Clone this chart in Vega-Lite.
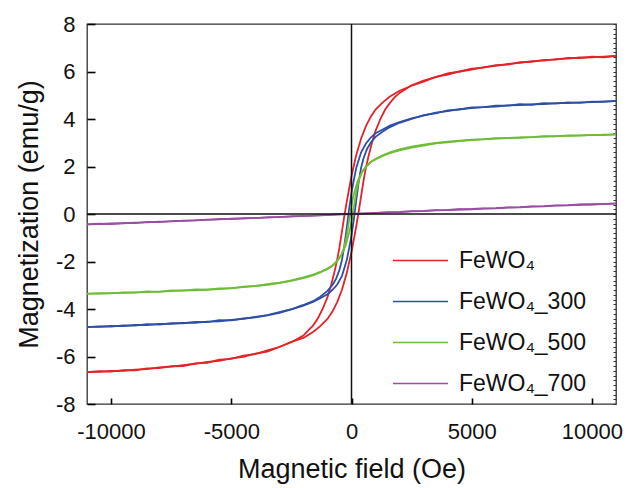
{
  "$schema": "https://vega.github.io/schema/vega-lite/v6.json",
  "autosize": {"type": "none"},
  "padding": {"left": 87, "top": 24, "right": 11, "bottom": 84},
  "width": 529,
  "height": 380,
  "config": {
    "font": "Liberation Sans",
    "view": {"stroke": "#333333", "strokeWidth": 1.3},
    "axis": {"grid": false, "labelColor": "#111111", "titleColor": "#111111", "labelFont": "Liberation Sans", "titleFont": "Liberation Sans", "titleFontWeight": "normal"}
  },
  "datasets": {
    "zero": [{"v": 0}],
    "loops": [
      {"s":"FeWO₄","b":"a","h":-11000,"m":-6.66},{"s":"FeWO₄","b":"a","h":-10500,"m":-6.62},{"s":"FeWO₄","b":"a","h":-10000,"m":-6.64},{"s":"FeWO₄","b":"a","h":-9500,"m":-6.57},{"s":"FeWO₄","b":"a","h":-9000,"m":-6.58},{"s":"FeWO₄","b":"a","h":-8500,"m":-6.5},{"s":"FeWO₄","b":"a","h":-8000,"m":-6.49},{"s":"FeWO₄","b":"a","h":-7500,"m":-6.41},{"s":"FeWO₄","b":"a","h":-7000,"m":-6.4},{"s":"FeWO₄","b":"a","h":-6500,"m":-6.29},{"s":"FeWO₄","b":"a","h":-6000,"m":-6.27},{"s":"FeWO₄","b":"a","h":-5500,"m":-6.13},{"s":"FeWO₄","b":"a","h":-5000,"m":-6.1},{"s":"FeWO₄","b":"a","h":-4500,"m":-5.96},{"s":"FeWO₄","b":"a","h":-4000,"m":-5.9},{"s":"FeWO₄","b":"a","h":-3500,"m":-5.74},{"s":"FeWO₄","b":"a","h":-3000,"m":-5.6},{"s":"FeWO₄","b":"a","h":-2500,"m":-5.38},{"s":"FeWO₄","b":"a","h":-2000,"m":-5.22},{"s":"FeWO₄","b":"a","h":-1600,"m":-4.97},{"s":"FeWO₄","b":"a","h":-1300,"m":-4.72},{"s":"FeWO₄","b":"a","h":-1000,"m":-4.42},{"s":"FeWO₄","b":"a","h":-800,"m":-4.12},{"s":"FeWO₄","b":"a","h":-600,"m":-3.72},{"s":"FeWO₄","b":"a","h":-400,"m":-3.2},{"s":"FeWO₄","b":"a","h":-200,"m":-2.5},{"s":"FeWO₄","b":"a","h":0,"m":-1.6},{"s":"FeWO₄","b":"a","h":200,"m":-0.5},{"s":"FeWO₄","b":"a","h":300,"m":0.1},{"s":"FeWO₄","b":"a","h":400,"m":0.75},{"s":"FeWO₄","b":"a","h":500,"m":1.4},{"s":"FeWO₄","b":"a","h":600,"m":1.95},{"s":"FeWO₄","b":"a","h":700,"m":2.4},{"s":"FeWO₄","b":"a","h":850,"m":3.0},{"s":"FeWO₄","b":"a","h":1000,"m":3.5},{"s":"FeWO₄","b":"a","h":1200,"m":4.0},{"s":"FeWO₄","b":"a","h":1400,"m":4.4},{"s":"FeWO₄","b":"a","h":1600,"m":4.68},{"s":"FeWO₄","b":"a","h":1800,"m":4.92},{"s":"FeWO₄","b":"a","h":2000,"m":5.1},{"s":"FeWO₄","b":"a","h":2500,"m":5.42},{"s":"FeWO₄","b":"a","h":3000,"m":5.62},{"s":"FeWO₄","b":"a","h":3500,"m":5.76},{"s":"FeWO₄","b":"a","h":4000,"m":5.92},{"s":"FeWO₄","b":"a","h":4500,"m":6.0},{"s":"FeWO₄","b":"a","h":5000,"m":6.12},{"s":"FeWO₄","b":"a","h":5500,"m":6.16},{"s":"FeWO₄","b":"a","h":6000,"m":6.27},{"s":"FeWO₄","b":"a","h":6500,"m":6.29},{"s":"FeWO₄","b":"a","h":7000,"m":6.39},{"s":"FeWO₄","b":"a","h":7500,"m":6.41},{"s":"FeWO₄","b":"a","h":8000,"m":6.49},{"s":"FeWO₄","b":"a","h":8500,"m":6.5},{"s":"FeWO₄","b":"a","h":9000,"m":6.57},{"s":"FeWO₄","b":"a","h":9500,"m":6.56},{"s":"FeWO₄","b":"a","h":10000,"m":6.62},{"s":"FeWO₄","b":"a","h":10500,"m":6.6},{"s":"FeWO₄","b":"a","h":11000,"m":6.66},
      {"s":"FeWO₄","b":"d","h":11000,"m":6.66},{"s":"FeWO₄","b":"d","h":10500,"m":6.63},{"s":"FeWO₄","b":"d","h":10000,"m":6.6},{"s":"FeWO₄","b":"d","h":9500,"m":6.59},{"s":"FeWO₄","b":"d","h":9000,"m":6.54},{"s":"FeWO₄","b":"d","h":8500,"m":6.52},{"s":"FeWO₄","b":"d","h":8000,"m":6.46},{"s":"FeWO₄","b":"d","h":7500,"m":6.44},{"s":"FeWO₄","b":"d","h":7000,"m":6.36},{"s":"FeWO₄","b":"d","h":6500,"m":6.32},{"s":"FeWO₄","b":"d","h":6000,"m":6.24},{"s":"FeWO₄","b":"d","h":5500,"m":6.18},{"s":"FeWO₄","b":"d","h":5000,"m":6.08},{"s":"FeWO₄","b":"d","h":4500,"m":6.0},{"s":"FeWO₄","b":"d","h":4000,"m":5.87},{"s":"FeWO₄","b":"d","h":3500,"m":5.77},{"s":"FeWO₄","b":"d","h":3000,"m":5.57},{"s":"FeWO₄","b":"d","h":2500,"m":5.4},{"s":"FeWO₄","b":"d","h":2000,"m":5.19},{"s":"FeWO₄","b":"d","h":1600,"m":4.95},{"s":"FeWO₄","b":"d","h":1300,"m":4.7},{"s":"FeWO₄","b":"d","h":1000,"m":4.4},{"s":"FeWO₄","b":"d","h":800,"m":4.1},{"s":"FeWO₄","b":"d","h":600,"m":3.7},{"s":"FeWO₄","b":"d","h":400,"m":3.18},{"s":"FeWO₄","b":"d","h":200,"m":2.5},{"s":"FeWO₄","b":"d","h":0,"m":1.6},{"s":"FeWO₄","b":"d","h":-200,"m":0.5},{"s":"FeWO₄","b":"d","h":-300,"m":-0.1},{"s":"FeWO₄","b":"d","h":-400,"m":-0.75},{"s":"FeWO₄","b":"d","h":-500,"m":-1.4},{"s":"FeWO₄","b":"d","h":-600,"m":-1.95},{"s":"FeWO₄","b":"d","h":-700,"m":-2.4},{"s":"FeWO₄","b":"d","h":-850,"m":-3.0},{"s":"FeWO₄","b":"d","h":-1000,"m":-3.5},{"s":"FeWO₄","b":"d","h":-1200,"m":-4.0},{"s":"FeWO₄","b":"d","h":-1400,"m":-4.4},{"s":"FeWO₄","b":"d","h":-1600,"m":-4.7},{"s":"FeWO₄","b":"d","h":-1800,"m":-4.9},{"s":"FeWO₄","b":"d","h":-2000,"m":-5.12},{"s":"FeWO₄","b":"d","h":-2500,"m":-5.4},{"s":"FeWO₄","b":"d","h":-3000,"m":-5.6},{"s":"FeWO₄","b":"d","h":-3500,"m":-5.79},{"s":"FeWO₄","b":"d","h":-4000,"m":-5.88},{"s":"FeWO₄","b":"d","h":-4500,"m":-6.02},{"s":"FeWO₄","b":"d","h":-5000,"m":-6.08},{"s":"FeWO₄","b":"d","h":-5500,"m":-6.18},{"s":"FeWO₄","b":"d","h":-6000,"m":-6.23},{"s":"FeWO₄","b":"d","h":-6500,"m":-6.31},{"s":"FeWO₄","b":"d","h":-7000,"m":-6.36},{"s":"FeWO₄","b":"d","h":-7500,"m":-6.43},{"s":"FeWO₄","b":"d","h":-8000,"m":-6.46},{"s":"FeWO₄","b":"d","h":-8500,"m":-6.53},{"s":"FeWO₄","b":"d","h":-9000,"m":-6.55},{"s":"FeWO₄","b":"d","h":-9500,"m":-6.6},{"s":"FeWO₄","b":"d","h":-10000,"m":-6.61},{"s":"FeWO₄","b":"d","h":-10500,"m":-6.65},{"s":"FeWO₄","b":"d","h":-11000,"m":-6.66},
      {"s":"FeWO₄_300","b":"a","h":-11000,"m":-4.76},{"s":"FeWO₄_300","b":"a","h":-10500,"m":-4.73},{"s":"FeWO₄_300","b":"a","h":-10000,"m":-4.74},{"s":"FeWO₄_300","b":"a","h":-9500,"m":-4.69},{"s":"FeWO₄_300","b":"a","h":-9000,"m":-4.7},{"s":"FeWO₄_300","b":"a","h":-8500,"m":-4.64},{"s":"FeWO₄_300","b":"a","h":-8000,"m":-4.66},{"s":"FeWO₄_300","b":"a","h":-7500,"m":-4.6},{"s":"FeWO₄_300","b":"a","h":-7000,"m":-4.6},{"s":"FeWO₄_300","b":"a","h":-6500,"m":-4.54},{"s":"FeWO₄_300","b":"a","h":-6000,"m":-4.55},{"s":"FeWO₄_300","b":"a","h":-5500,"m":-4.47},{"s":"FeWO₄_300","b":"a","h":-5000,"m":-4.48},{"s":"FeWO₄_300","b":"a","h":-4500,"m":-4.4},{"s":"FeWO₄_300","b":"a","h":-4000,"m":-4.35},{"s":"FeWO₄_300","b":"a","h":-3500,"m":-4.27},{"s":"FeWO₄_300","b":"a","h":-3000,"m":-4.16},{"s":"FeWO₄_300","b":"a","h":-2500,"m":-4.02},{"s":"FeWO₄_300","b":"a","h":-2000,"m":-3.86},{"s":"FeWO₄_300","b":"a","h":-1600,"m":-3.7},{"s":"FeWO₄_300","b":"a","h":-1300,"m":-3.55},{"s":"FeWO₄_300","b":"a","h":-1000,"m":-3.38},{"s":"FeWO₄_300","b":"a","h":-800,"m":-3.2},{"s":"FeWO₄_300","b":"a","h":-600,"m":-2.98},{"s":"FeWO₄_300","b":"a","h":-400,"m":-2.62},{"s":"FeWO₄_300","b":"a","h":-200,"m":-1.95},{"s":"FeWO₄_300","b":"a","h":-100,"m":-1.45},{"s":"FeWO₄_300","b":"a","h":0,"m":-0.9},{"s":"FeWO₄_300","b":"a","h":100,"m":-0.2},{"s":"FeWO₄_300","b":"a","h":200,"m":0.6},{"s":"FeWO₄_300","b":"a","h":300,"m":1.35},{"s":"FeWO₄_300","b":"a","h":400,"m":1.95},{"s":"FeWO₄_300","b":"a","h":500,"m":2.35},{"s":"FeWO₄_300","b":"a","h":650,"m":2.75},{"s":"FeWO₄_300","b":"a","h":800,"m":3.0},{"s":"FeWO₄_300","b":"a","h":1000,"m":3.25},{"s":"FeWO₄_300","b":"a","h":1300,"m":3.47},{"s":"FeWO₄_300","b":"a","h":1600,"m":3.66},{"s":"FeWO₄_300","b":"a","h":2000,"m":3.84},{"s":"FeWO₄_300","b":"a","h":2500,"m":4.0},{"s":"FeWO₄_300","b":"a","h":3000,"m":4.16},{"s":"FeWO₄_300","b":"a","h":3500,"m":4.24},{"s":"FeWO₄_300","b":"a","h":4000,"m":4.36},{"s":"FeWO₄_300","b":"a","h":4500,"m":4.4},{"s":"FeWO₄_300","b":"a","h":5000,"m":4.49},{"s":"FeWO₄_300","b":"a","h":5500,"m":4.5},{"s":"FeWO₄_300","b":"a","h":6000,"m":4.56},{"s":"FeWO₄_300","b":"a","h":6500,"m":4.56},{"s":"FeWO₄_300","b":"a","h":7000,"m":4.62},{"s":"FeWO₄_300","b":"a","h":7500,"m":4.6},{"s":"FeWO₄_300","b":"a","h":8000,"m":4.67},{"s":"FeWO₄_300","b":"a","h":8500,"m":4.65},{"s":"FeWO₄_300","b":"a","h":9000,"m":4.7},{"s":"FeWO₄_300","b":"a","h":9500,"m":4.68},{"s":"FeWO₄_300","b":"a","h":10000,"m":4.73},{"s":"FeWO₄_300","b":"a","h":10500,"m":4.72},{"s":"FeWO₄_300","b":"a","h":11000,"m":4.76},
      {"s":"FeWO₄_300","b":"d","h":11000,"m":4.75},{"s":"FeWO₄_300","b":"d","h":10500,"m":4.74},{"s":"FeWO₄_300","b":"d","h":10000,"m":4.71},{"s":"FeWO₄_300","b":"d","h":9500,"m":4.7},{"s":"FeWO₄_300","b":"d","h":9000,"m":4.67},{"s":"FeWO₄_300","b":"d","h":8500,"m":4.67},{"s":"FeWO₄_300","b":"d","h":8000,"m":4.63},{"s":"FeWO₄_300","b":"d","h":7500,"m":4.62},{"s":"FeWO₄_300","b":"d","h":7000,"m":4.58},{"s":"FeWO₄_300","b":"d","h":6500,"m":4.57},{"s":"FeWO₄_300","b":"d","h":6000,"m":4.52},{"s":"FeWO₄_300","b":"d","h":5500,"m":4.5},{"s":"FeWO₄_300","b":"d","h":5000,"m":4.46},{"s":"FeWO₄_300","b":"d","h":4500,"m":4.42},{"s":"FeWO₄_300","b":"d","h":4000,"m":4.33},{"s":"FeWO₄_300","b":"d","h":3500,"m":4.27},{"s":"FeWO₄_300","b":"d","h":3000,"m":4.14},{"s":"FeWO₄_300","b":"d","h":2500,"m":4.03},{"s":"FeWO₄_300","b":"d","h":2000,"m":3.87},{"s":"FeWO₄_300","b":"d","h":1600,"m":3.72},{"s":"FeWO₄_300","b":"d","h":1300,"m":3.56},{"s":"FeWO₄_300","b":"d","h":1000,"m":3.4},{"s":"FeWO₄_300","b":"d","h":800,"m":3.22},{"s":"FeWO₄_300","b":"d","h":600,"m":2.97},{"s":"FeWO₄_300","b":"d","h":400,"m":2.6},{"s":"FeWO₄_300","b":"d","h":200,"m":1.95},{"s":"FeWO₄_300","b":"d","h":100,"m":1.45},{"s":"FeWO₄_300","b":"d","h":0,"m":0.9},{"s":"FeWO₄_300","b":"d","h":-100,"m":0.2},{"s":"FeWO₄_300","b":"d","h":-200,"m":-0.6},{"s":"FeWO₄_300","b":"d","h":-300,"m":-1.35},{"s":"FeWO₄_300","b":"d","h":-400,"m":-1.95},{"s":"FeWO₄_300","b":"d","h":-500,"m":-2.35},{"s":"FeWO₄_300","b":"d","h":-650,"m":-2.75},{"s":"FeWO₄_300","b":"d","h":-800,"m":-3.0},{"s":"FeWO₄_300","b":"d","h":-1000,"m":-3.24},{"s":"FeWO₄_300","b":"d","h":-1300,"m":-3.48},{"s":"FeWO₄_300","b":"d","h":-1600,"m":-3.67},{"s":"FeWO₄_300","b":"d","h":-2000,"m":-3.83},{"s":"FeWO₄_300","b":"d","h":-2500,"m":-4.01},{"s":"FeWO₄_300","b":"d","h":-3000,"m":-4.13},{"s":"FeWO₄_300","b":"d","h":-3500,"m":-4.26},{"s":"FeWO₄_300","b":"d","h":-4000,"m":-4.33},{"s":"FeWO₄_300","b":"d","h":-4500,"m":-4.42},{"s":"FeWO₄_300","b":"d","h":-5000,"m":-4.46},{"s":"FeWO₄_300","b":"d","h":-5500,"m":-4.52},{"s":"FeWO₄_300","b":"d","h":-6000,"m":-4.53},{"s":"FeWO₄_300","b":"d","h":-6500,"m":-4.58},{"s":"FeWO₄_300","b":"d","h":-7000,"m":-4.58},{"s":"FeWO₄_300","b":"d","h":-7500,"m":-4.63},{"s":"FeWO₄_300","b":"d","h":-8000,"m":-4.63},{"s":"FeWO₄_300","b":"d","h":-8500,"m":-4.68},{"s":"FeWO₄_300","b":"d","h":-9000,"m":-4.67},{"s":"FeWO₄_300","b":"d","h":-9500,"m":-4.72},{"s":"FeWO₄_300","b":"d","h":-10000,"m":-4.71},{"s":"FeWO₄_300","b":"d","h":-10500,"m":-4.75},{"s":"FeWO₄_300","b":"d","h":-11000,"m":-4.75},
      {"s":"FeWO₄_500","b":"a","h":-11000,"m":-3.36},{"s":"FeWO₄_500","b":"a","h":-10500,"m":-3.33},{"s":"FeWO₄_500","b":"a","h":-10000,"m":-3.34},{"s":"FeWO₄_500","b":"a","h":-9500,"m":-3.3},{"s":"FeWO₄_500","b":"a","h":-9000,"m":-3.31},{"s":"FeWO₄_500","b":"a","h":-8500,"m":-3.26},{"s":"FeWO₄_500","b":"a","h":-8000,"m":-3.28},{"s":"FeWO₄_500","b":"a","h":-7500,"m":-3.22},{"s":"FeWO₄_500","b":"a","h":-7000,"m":-3.23},{"s":"FeWO₄_500","b":"a","h":-6500,"m":-3.18},{"s":"FeWO₄_500","b":"a","h":-6000,"m":-3.19},{"s":"FeWO₄_500","b":"a","h":-5500,"m":-3.13},{"s":"FeWO₄_500","b":"a","h":-5000,"m":-3.13},{"s":"FeWO₄_500","b":"a","h":-4500,"m":-3.06},{"s":"FeWO₄_500","b":"a","h":-4000,"m":-3.03},{"s":"FeWO₄_500","b":"a","h":-3500,"m":-2.95},{"s":"FeWO₄_500","b":"a","h":-3000,"m":-2.89},{"s":"FeWO₄_500","b":"a","h":-2500,"m":-2.79},{"s":"FeWO₄_500","b":"a","h":-2000,"m":-2.67},{"s":"FeWO₄_500","b":"a","h":-1600,"m":-2.55},{"s":"FeWO₄_500","b":"a","h":-1300,"m":-2.44},{"s":"FeWO₄_500","b":"a","h":-1000,"m":-2.3},{"s":"FeWO₄_500","b":"a","h":-800,"m":-2.17},{"s":"FeWO₄_500","b":"a","h":-600,"m":-1.98},{"s":"FeWO₄_500","b":"a","h":-400,"m":-1.68},{"s":"FeWO₄_500","b":"a","h":-250,"m":-1.35},{"s":"FeWO₄_500","b":"a","h":-100,"m":-0.8},{"s":"FeWO₄_500","b":"a","h":0,"m":-0.35},{"s":"FeWO₄_500","b":"a","h":100,"m":0.3},{"s":"FeWO₄_500","b":"a","h":200,"m":0.95},{"s":"FeWO₄_500","b":"a","h":300,"m":1.4},{"s":"FeWO₄_500","b":"a","h":450,"m":1.8},{"s":"FeWO₄_500","b":"a","h":650,"m":2.06},{"s":"FeWO₄_500","b":"a","h":800,"m":2.2},{"s":"FeWO₄_500","b":"a","h":1000,"m":2.31},{"s":"FeWO₄_500","b":"a","h":1300,"m":2.47},{"s":"FeWO₄_500","b":"a","h":1600,"m":2.6},{"s":"FeWO₄_500","b":"a","h":2000,"m":2.72},{"s":"FeWO₄_500","b":"a","h":2500,"m":2.84},{"s":"FeWO₄_500","b":"a","h":3000,"m":2.92},{"s":"FeWO₄_500","b":"a","h":3500,"m":2.99},{"s":"FeWO₄_500","b":"a","h":4000,"m":3.05},{"s":"FeWO₄_500","b":"a","h":4500,"m":3.09},{"s":"FeWO₄_500","b":"a","h":5000,"m":3.13},{"s":"FeWO₄_500","b":"a","h":5500,"m":3.15},{"s":"FeWO₄_500","b":"a","h":6000,"m":3.19},{"s":"FeWO₄_500","b":"a","h":6500,"m":3.2},{"s":"FeWO₄_500","b":"a","h":7000,"m":3.23},{"s":"FeWO₄_500","b":"a","h":7500,"m":3.24},{"s":"FeWO₄_500","b":"a","h":8000,"m":3.28},{"s":"FeWO₄_500","b":"a","h":8500,"m":3.27},{"s":"FeWO₄_500","b":"a","h":9000,"m":3.31},{"s":"FeWO₄_500","b":"a","h":9500,"m":3.3},{"s":"FeWO₄_500","b":"a","h":10000,"m":3.33},{"s":"FeWO₄_500","b":"a","h":10500,"m":3.32},{"s":"FeWO₄_500","b":"a","h":11000,"m":3.35},
      {"s":"FeWO₄_500","b":"d","h":11000,"m":3.35},{"s":"FeWO₄_500","b":"d","h":10500,"m":3.34},{"s":"FeWO₄_500","b":"d","h":10000,"m":3.32},{"s":"FeWO₄_500","b":"d","h":9500,"m":3.31},{"s":"FeWO₄_500","b":"d","h":9000,"m":3.29},{"s":"FeWO₄_500","b":"d","h":8500,"m":3.28},{"s":"FeWO₄_500","b":"d","h":8000,"m":3.26},{"s":"FeWO₄_500","b":"d","h":7500,"m":3.24},{"s":"FeWO₄_500","b":"d","h":7000,"m":3.21},{"s":"FeWO₄_500","b":"d","h":6500,"m":3.2},{"s":"FeWO₄_500","b":"d","h":6000,"m":3.17},{"s":"FeWO₄_500","b":"d","h":5500,"m":3.14},{"s":"FeWO₄_500","b":"d","h":5000,"m":3.11},{"s":"FeWO₄_500","b":"d","h":4500,"m":3.07},{"s":"FeWO₄_500","b":"d","h":4000,"m":3.02},{"s":"FeWO₄_500","b":"d","h":3500,"m":2.97},{"s":"FeWO₄_500","b":"d","h":3000,"m":2.88},{"s":"FeWO₄_500","b":"d","h":2500,"m":2.8},{"s":"FeWO₄_500","b":"d","h":2000,"m":2.68},{"s":"FeWO₄_500","b":"d","h":1600,"m":2.56},{"s":"FeWO₄_500","b":"d","h":1300,"m":2.45},{"s":"FeWO₄_500","b":"d","h":1000,"m":2.31},{"s":"FeWO₄_500","b":"d","h":800,"m":2.18},{"s":"FeWO₄_500","b":"d","h":600,"m":1.99},{"s":"FeWO₄_500","b":"d","h":400,"m":1.7},{"s":"FeWO₄_500","b":"d","h":250,"m":1.37},{"s":"FeWO₄_500","b":"d","h":100,"m":0.85},{"s":"FeWO₄_500","b":"d","h":0,"m":0.38},{"s":"FeWO₄_500","b":"d","h":-100,"m":-0.28},{"s":"FeWO₄_500","b":"d","h":-200,"m":-0.93},{"s":"FeWO₄_500","b":"d","h":-300,"m":-1.38},{"s":"FeWO₄_500","b":"d","h":-450,"m":-1.79},{"s":"FeWO₄_500","b":"d","h":-650,"m":-2.05},{"s":"FeWO₄_500","b":"d","h":-800,"m":-2.19},{"s":"FeWO₄_500","b":"d","h":-1000,"m":-2.32},{"s":"FeWO₄_500","b":"d","h":-1300,"m":-2.46},{"s":"FeWO₄_500","b":"d","h":-1600,"m":-2.58},{"s":"FeWO₄_500","b":"d","h":-2000,"m":-2.7},{"s":"FeWO₄_500","b":"d","h":-2500,"m":-2.82},{"s":"FeWO₄_500","b":"d","h":-3000,"m":-2.91},{"s":"FeWO₄_500","b":"d","h":-3500,"m":-2.98},{"s":"FeWO₄_500","b":"d","h":-4000,"m":-3.04},{"s":"FeWO₄_500","b":"d","h":-4500,"m":-3.08},{"s":"FeWO₄_500","b":"d","h":-5000,"m":-3.12},{"s":"FeWO₄_500","b":"d","h":-5500,"m":-3.16},{"s":"FeWO₄_500","b":"d","h":-6000,"m":-3.18},{"s":"FeWO₄_500","b":"d","h":-6500,"m":-3.21},{"s":"FeWO₄_500","b":"d","h":-7000,"m":-3.22},{"s":"FeWO₄_500","b":"d","h":-7500,"m":-3.25},{"s":"FeWO₄_500","b":"d","h":-8000,"m":-3.27},{"s":"FeWO₄_500","b":"d","h":-8500,"m":-3.29},{"s":"FeWO₄_500","b":"d","h":-9000,"m":-3.3},{"s":"FeWO₄_500","b":"d","h":-9500,"m":-3.32},{"s":"FeWO₄_500","b":"d","h":-10000,"m":-3.33},{"s":"FeWO₄_500","b":"d","h":-10500,"m":-3.35},{"s":"FeWO₄_500","b":"d","h":-11000,"m":-3.35},
      {"s":"FeWO₄_700","b":"a","h":-11000,"m":-0.44},{"s":"FeWO₄_700","b":"a","h":-10500,"m":-0.41},{"s":"FeWO₄_700","b":"a","h":-10000,"m":-0.42},{"s":"FeWO₄_700","b":"a","h":-9500,"m":-0.38},{"s":"FeWO₄_700","b":"a","h":-9000,"m":-0.38},{"s":"FeWO₄_700","b":"a","h":-8500,"m":-0.33},{"s":"FeWO₄_700","b":"a","h":-8000,"m":-0.34},{"s":"FeWO₄_700","b":"a","h":-7500,"m":-0.3},{"s":"FeWO₄_700","b":"a","h":-7000,"m":-0.29},{"s":"FeWO₄_700","b":"a","h":-6500,"m":-0.27},{"s":"FeWO₄_700","b":"a","h":-6000,"m":-0.25},{"s":"FeWO₄_700","b":"a","h":-5500,"m":-0.21},{"s":"FeWO₄_700","b":"a","h":-5000,"m":-0.21},{"s":"FeWO₄_700","b":"a","h":-4500,"m":-0.17},{"s":"FeWO₄_700","b":"a","h":-4000,"m":-0.17},{"s":"FeWO₄_700","b":"a","h":-3500,"m":-0.13},{"s":"FeWO₄_700","b":"a","h":-3000,"m":-0.13},{"s":"FeWO₄_700","b":"a","h":-2500,"m":-0.09},{"s":"FeWO₄_700","b":"a","h":-2000,"m":-0.09},{"s":"FeWO₄_700","b":"a","h":-1500,"m":-0.06},{"s":"FeWO₄_700","b":"a","h":-1000,"m":-0.05},{"s":"FeWO₄_700","b":"a","h":-500,"m":-0.02},{"s":"FeWO₄_700","b":"a","h":0,"m":-0.01},{"s":"FeWO₄_700","b":"a","h":500,"m":0.02},{"s":"FeWO₄_700","b":"a","h":1000,"m":0.04},{"s":"FeWO₄_700","b":"a","h":1500,"m":0.07},{"s":"FeWO₄_700","b":"a","h":2000,"m":0.08},{"s":"FeWO₄_700","b":"a","h":2500,"m":0.11},{"s":"FeWO₄_700","b":"a","h":3000,"m":0.12},{"s":"FeWO₄_700","b":"a","h":3500,"m":0.15},{"s":"FeWO₄_700","b":"a","h":4000,"m":0.16},{"s":"FeWO₄_700","b":"a","h":4500,"m":0.19},{"s":"FeWO₄_700","b":"a","h":5000,"m":0.2},{"s":"FeWO₄_700","b":"a","h":5500,"m":0.23},{"s":"FeWO₄_700","b":"a","h":6000,"m":0.24},{"s":"FeWO₄_700","b":"a","h":6500,"m":0.27},{"s":"FeWO₄_700","b":"a","h":7000,"m":0.28},{"s":"FeWO₄_700","b":"a","h":7500,"m":0.31},{"s":"FeWO₄_700","b":"a","h":8000,"m":0.32},{"s":"FeWO₄_700","b":"a","h":8500,"m":0.35},{"s":"FeWO₄_700","b":"a","h":9000,"m":0.36},{"s":"FeWO₄_700","b":"a","h":9500,"m":0.39},{"s":"FeWO₄_700","b":"a","h":10000,"m":0.4},{"s":"FeWO₄_700","b":"a","h":10500,"m":0.43},{"s":"FeWO₄_700","b":"a","h":11000,"m":0.44},
      {"s":"FeWO₄_700","b":"d","h":11000,"m":0.45},{"s":"FeWO₄_700","b":"d","h":10500,"m":0.42},{"s":"FeWO₄_700","b":"d","h":10000,"m":0.41},{"s":"FeWO₄_700","b":"d","h":9500,"m":0.4},{"s":"FeWO₄_700","b":"d","h":9000,"m":0.37},{"s":"FeWO₄_700","b":"d","h":8500,"m":0.36},{"s":"FeWO₄_700","b":"d","h":8000,"m":0.33},{"s":"FeWO₄_700","b":"d","h":7500,"m":0.32},{"s":"FeWO₄_700","b":"d","h":7000,"m":0.29},{"s":"FeWO₄_700","b":"d","h":6500,"m":0.28},{"s":"FeWO₄_700","b":"d","h":6000,"m":0.25},{"s":"FeWO₄_700","b":"d","h":5500,"m":0.24},{"s":"FeWO₄_700","b":"d","h":5000,"m":0.21},{"s":"FeWO₄_700","b":"d","h":4500,"m":0.2},{"s":"FeWO₄_700","b":"d","h":4000,"m":0.17},{"s":"FeWO₄_700","b":"d","h":3500,"m":0.16},{"s":"FeWO₄_700","b":"d","h":3000,"m":0.13},{"s":"FeWO₄_700","b":"d","h":2500,"m":0.12},{"s":"FeWO₄_700","b":"d","h":2000,"m":0.09},{"s":"FeWO₄_700","b":"d","h":1500,"m":0.08},{"s":"FeWO₄_700","b":"d","h":1000,"m":0.05},{"s":"FeWO₄_700","b":"d","h":500,"m":0.03},{"s":"FeWO₄_700","b":"d","h":0,"m":0.01},{"s":"FeWO₄_700","b":"d","h":-500,"m":-0.02},{"s":"FeWO₄_700","b":"d","h":-1000,"m":-0.04},{"s":"FeWO₄_700","b":"d","h":-1500,"m":-0.07},{"s":"FeWO₄_700","b":"d","h":-2000,"m":-0.08},{"s":"FeWO₄_700","b":"d","h":-2500,"m":-0.11},{"s":"FeWO₄_700","b":"d","h":-3000,"m":-0.12},{"s":"FeWO₄_700","b":"d","h":-3500,"m":-0.15},{"s":"FeWO₄_700","b":"d","h":-4000,"m":-0.16},{"s":"FeWO₄_700","b":"d","h":-4500,"m":-0.19},{"s":"FeWO₄_700","b":"d","h":-5000,"m":-0.2},{"s":"FeWO₄_700","b":"d","h":-5500,"m":-0.23},{"s":"FeWO₄_700","b":"d","h":-6000,"m":-0.24},{"s":"FeWO₄_700","b":"d","h":-6500,"m":-0.27},{"s":"FeWO₄_700","b":"d","h":-7000,"m":-0.28},{"s":"FeWO₄_700","b":"d","h":-7500,"m":-0.31},{"s":"FeWO₄_700","b":"d","h":-8000,"m":-0.32},{"s":"FeWO₄_700","b":"d","h":-8500,"m":-0.35},{"s":"FeWO₄_700","b":"d","h":-9000,"m":-0.36},{"s":"FeWO₄_700","b":"d","h":-9500,"m":-0.39},{"s":"FeWO₄_700","b":"d","h":-10000,"m":-0.4},{"s":"FeWO₄_700","b":"d","h":-10500,"m":-0.43},{"s":"FeWO₄_700","b":"d","h":-11000,"m":-0.44}
    ]
  },
  "layer": [
    {
      "data": {"name": "loops"},
      "mark": {"type": "line", "strokeWidth": 1.8, "interpolate": "linear"},
      "encoding": {
        "x": {"field": "h", "type": "quantitative", "scale": {"domain": [-11000, 11000], "nice": false},
          "axis": {"values": [-10000, -5000, 0, 5000, 10000], "labelExpr": "'' + datum.value", "title": "Magnetic field (Oe)", "labelFontSize": 22, "titleFontSize": 27, "offset": -6, "tickSize": 6, "tickWidth": 1.6, "tickColor": "#000000", "labelPadding": 17, "titlePadding": 14, "labelFlush": false, "domain": false}},
        "y": {"field": "m", "type": "quantitative", "scale": {"domain": [-8, 8], "nice": false},
          "axis": {"orient": "left", "values": [-8, -6, -4, -2, 0, 2, 4, 6, 8], "labelExpr": "'' + datum.value", "title": "Magnetization (emu/g)", "labelFontSize": 22, "titleFontSize": 27, "offset": -8, "tickSize": 8, "tickWidth": 1.6, "tickColor": "#000000", "labelPadding": 12, "titlePadding": 12, "domain": false}},
        "color": {"field": "s", "type": "nominal",
          "scale": {"domain": ["FeWO₄", "FeWO₄_300", "FeWO₄_500", "FeWO₄_700"], "range": ["#e42328", "#2f4ea6", "#6fbd36", "#9a4fa3"]},
          "legend": {"title": null, "orient": "none", "legendX": 305, "legendY": 208, "symbolType": "stroke", "symbolSize": 3025, "symbolStrokeWidth": 1.5, "labelFontSize": 23, "labelColor": "#111111", "labelOffset": 10, "rowPadding": -9}},
        "detail": {"field": "b", "type": "nominal"}
      }
    },
    {
      "data": {"name": "zero"},
      "mark": {"type": "rule", "color": "#111111", "strokeWidth": 1.5},
      "encoding": {
        "y": {"field": "v", "type": "quantitative", "scale": {"domain": [-8, 8], "nice": false},
          "axis": {"orient": "right", "title": null, "labels": false, "offset": -3, "tickSize": 3, "tickCount": 80, "domain": false, "ticks": true, "tickWidth": 1, "tickColor": "#333333"}}
      }
    },
    {
      "data": {"name": "zero"},
      "mark": {"type": "rule", "color": "#111111", "strokeWidth": 1.5},
      "encoding": {
        "x": {"field": "v", "type": "quantitative"}
      }
    }
  ],
  "resolve": {"axis": {"y": "independent"}, "scale": {"y": "shared"}}
}
